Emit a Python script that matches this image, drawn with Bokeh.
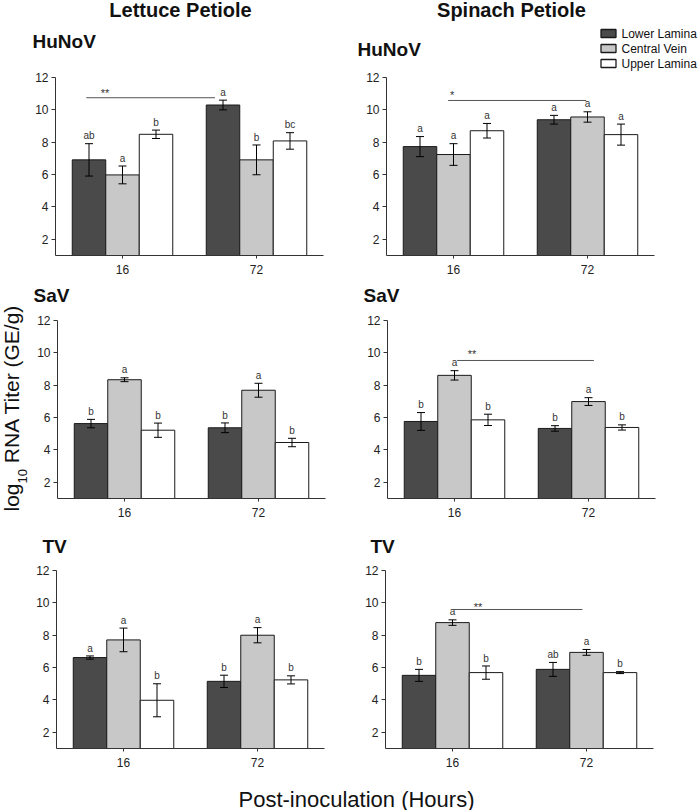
import math
from bokeh.plotting import figure
from bokeh.models import (Range1d, FixedTicker, ColumnDataSource, Whisker, TeeHead, LinearAxis)
from bokeh.layouts import column, row
from bokeh.embed import file_html
from bokeh.resources import INLINE
from bokeh.core.properties import value

FONT = "Liberation Sans"

hours = ["16", "72"]
tissues = ["Lower Lamina", "Central Vein", "Upper Lamina"]
tissue_colors = ["#4a4a4a", "#c8c8c8", "#ffffff"]
y_ticks = [2, 4, 6, 8, 10, 12]

# order: 16 h (Lower, Central, Upper), 72 h (Lower, Central, Upper)
lettuce_hunov_mean = [6.91, 5.98, 8.49, 10.30, 6.91, 8.08]
lettuce_hunov_err = [1.00, 0.55, 0.26, 0.30, 0.92, 0.51]
lettuce_hunov_letters = ["ab", "a", "b", "a", "b", "bc"]

spinach_hunov_mean = [7.73, 7.24, 8.71, 9.39, 9.56, 8.47]
spinach_hunov_err = [0.62, 0.67, 0.45, 0.27, 0.32, 0.65]
spinach_hunov_letters = ["a", "a", "a", "a", "a", "a"]

lettuce_sav_mean = [5.63, 8.34, 5.22, 5.37, 7.69, 4.46]
lettuce_sav_err = [0.26, 0.12, 0.44, 0.30, 0.43, 0.26]
lettuce_sav_letters = ["b", "a", "b", "b", "a", "b"]

spinach_sav_mean = [5.76, 8.61, 5.86, 5.33, 6.99, 5.39]
spinach_sav_err = [0.55, 0.29, 0.35, 0.17, 0.24, 0.16]
spinach_sav_letters = ["b", "a", "b", "b", "a", "b"]

lettuce_tv_mean = [6.62, 7.71, 3.98, 5.15, 8.00, 5.24]
lettuce_tv_err = [0.10, 0.73, 1.02, 0.38, 0.47, 0.25]
lettuce_tv_letters = ["a", "a", "b", "b", "a", "b"]

spinach_tv_mean = [5.52, 8.78, 5.69, 5.89, 6.94, 5.69]
spinach_tv_err = [0.37, 0.17, 0.41, 0.43, 0.18, 0.06]
spinach_tv_letters = ["b", "a", "b", "ab", "a", "b"]

# significance lines: (x start, x end, line y, marker, marker x, marker y) in data units
lettuce_hunov_sig = (0.23, 1.19, 10.75, "**", 0.37, 11.07)
spinach_hunov_sig = (0.46, 1.49, 10.58, "*", 0.49, 10.92)
spinach_sav_sig = (0.52, 1.54, 9.53, "**", 0.63, 9.93)
spinach_tv_sig = (0.50, 1.47, 9.59, "**", 0.69, 9.75)


def txt(p, x, y, text, size, bold=False, align="left", baseline="middle",
        angle=0.0, color="#111111"):
    p.text(x=[x], y=[y], text=[text], text_font=value(FONT), text_font_size=size,
           text_font_style="bold" if bold else "normal", text_align=align,
           text_baseline=baseline, angle=angle, text_color=color)


def make_panel(mean, err, letters, box, axis_px, virus, virus_px, sig=None):
    # box: page pixel bounds of the figure; axis_px: (axis x, y of value 1, y of value 12)
    px0, px1, py0, py1 = box
    ax_x, ax_bottom, ax_top = axis_px
    ppx = 134.0
    ppy = (ax_bottom - ax_top) / 11.0
    p = figure(x_range=Range1d((px0 - ax_x) / ppx, (px1 - ax_x) / ppx),
               y_range=Range1d(1 - (py1 - ax_bottom) / ppy, 12 + (ax_top - py0) / ppy),
               frame_width=px1 - px0, frame_height=py1 - py0, min_border=0,
               x_axis_location=None, y_axis_location=None,
               output_backend="svg", toolbar_location=None)
    p.grid.grid_line_color = None
    p.outline_line_color = None
    p.background_fill_color = "white"
    p.border_fill_color = "white"

    def to_x(X):
        return (X - ax_x) / ppx

    def to_y(Y):
        return 1 + (ax_bottom - Y) / ppy

    xs = [h + 0.5 + (t - 1) * 0.25 for h in range(len(hours)) for t in range(3)]
    for t in range(3):
        idx = [h * 3 + t for h in range(len(hours))]
        src = ColumnDataSource(dict(x=[xs[i] for i in idx], top=[mean[i] for i in idx]))
        p.vbar(x="x", top="top", bottom=1, width=0.25, source=src,
               fill_color=tissue_colors[t], line_color="#1a1a1a", line_width=1)

    wsrc = ColumnDataSource(dict(base=xs,
                                 upper=[m + e for m, e in zip(mean, err)],
                                 lower=[m - e for m, e in zip(mean, err)]))
    p.add_layout(Whisker(base="base", upper="upper", lower="lower", source=wsrc,
                         dimension="height", line_color="black", line_width=1, level="overlay",
                         upper_head=TeeHead(size=8, line_color="black", line_width=1),
                         lower_head=TeeHead(size=8, line_color="black", line_width=1)))

    lsrc = ColumnDataSource(dict(x=xs, y=[m + e + 0.15 for m, e in zip(mean, err)], text=letters))
    p.text(x="x", y="y", text="text", source=lsrc, text_font=value(FONT),
           text_font_size="10px", text_align="center", text_baseline="bottom",
           text_color="#333333")

    if sig is not None:
        x0, x1, y, mark, mx, my = sig
        p.segment(x0=[x0], y0=[y], x1=[x1], y1=[y], line_color="#555555", line_width=1)
        txt(p, mx, my, mark, "11px", align="center", color="#333333")

    yaxis = LinearAxis(fixed_location=0, bounds=(1, 12), ticker=FixedTicker(ticks=y_ticks))
    xaxis = LinearAxis(fixed_location=1, bounds=(0, len(hours)),
                       ticker=FixedTicker(ticks=[i + 0.5 for i in range(len(hours))]),
                       major_label_overrides={i + 0.5: h for i, h in enumerate(hours)})
    for ax in (xaxis, yaxis):
        ax.axis_line_color = "#333333"
        ax.major_tick_line_color = "#333333"
        ax.major_tick_in = 0
        ax.major_tick_out = 4
        ax.minor_tick_line_color = None
        ax.major_label_text_font = FONT
        ax.major_label_text_font_size = "12px"
        ax.major_label_text_color = "#222222"
    xaxis.major_tick_out = 3
    xaxis.major_label_standoff = 6
    yaxis.major_label_standoff = 3
    p.add_layout(yaxis, "left")
    p.add_layout(xaxis, "below")

    txt(p, to_x(virus_px[0]), to_y(virus_px[1]), virus, "19px", bold=True)
    return p, to_x, to_y


ROW1 = (0, 282)
ROW2 = (282, 532)
ROW3 = (532, 772)
LEFTC = (0, 346)
RIGHTC = (346, 700)

f1, x1, y1 = make_panel(lettuce_hunov_mean, lettuce_hunov_err, lettuce_hunov_letters,
                        LEFTC + ROW1, (55, 255, 77), "HuNoV", (32, 40.5), sig=lettuce_hunov_sig)
f2, x2, y2 = make_panel(spinach_hunov_mean, spinach_hunov_err, spinach_hunov_letters,
                        RIGHTC + ROW1, (386, 255, 77), "HuNoV", (357, 48.5), sig=spinach_hunov_sig)
f3, x3, y3 = make_panel(lettuce_sav_mean, lettuce_sav_err, lettuce_sav_letters,
                        LEFTC + ROW2, (57, 498, 320), "SaV", (33, 295))
f4, x4, y4 = make_panel(spinach_sav_mean, spinach_sav_err, spinach_sav_letters,
                        RIGHTC + ROW2, (387, 498, 320), "SaV", (363, 294.5), sig=spinach_sav_sig)
f5, x5, y5 = make_panel(lettuce_tv_mean, lettuce_tv_err, lettuce_tv_letters,
                        LEFTC + ROW3, (56, 748, 570), "TV", (42, 546))
f6, x6, y6 = make_panel(spinach_tv_mean, spinach_tv_err, spinach_tv_letters,
                        RIGHTC + ROW3, (385, 748, 570), "TV", (370, 546), sig=spinach_tv_sig)

# column titles
txt(f1, x1(180), y1(9), "Lettuce Petiole", "20px", bold=True, align="center")
txt(f2, x2(511), y2(9), "Spinach Petiole", "20px", bold=True, align="center")

# legend (top right)
leg_rows = [33, 48, 63]
f2.rect(x=[x2(608)] * 3, y=[y2(v) for v in leg_rows], width=15, height=8,
        width_units="screen", height_units="screen",
        fill_color=tissue_colors, line_color="#1a1a1a", line_width=1.3)
for name, v in zip(tissues, leg_rows):
    txt(f2, x2(621), y2(v), name, "12px")

# y-axis title with subscript
txt(f3, x3(10.5), y3(511), "log", "21px", angle=math.pi / 2)
txt(f3, x3(21.5), y3(483), "10", "13px", angle=math.pi / 2)
txt(f3, x3(10.5), y3(462.7), "RNA Titer (GE/g)", "21px", angle=math.pi / 2)

# x-axis title strip
fb = figure(frame_width=700, frame_height=38, x_range=Range1d(0, 700), y_range=Range1d(0, 38),
            min_border=0, x_axis_location=None, y_axis_location=None,
            output_backend="svg", toolbar_location=None)
fb.grid.grid_line_color = None
fb.outline_line_color = None
txt(fb, 356, 810 - 798.5, "Post-inoculation (Hours)", "22px", align="center")

layout = column(row(f1, f2), row(f3, f4), row(f5, f6), fb)

open("out.html", "w").write(file_html(layout, INLINE))
